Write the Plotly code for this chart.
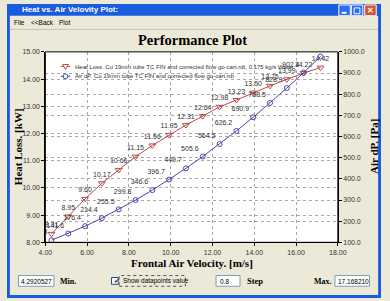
import plotly.graph_objects as go

velocity = [4.292, 5.097, 5.902, 6.706, 7.511, 8.316, 9.121, 9.925, 10.730,
            11.535, 12.340, 13.145, 13.949, 14.754, 15.559, 16.364, 17.168]
heat_loss = [8.31, 8.95, 9.60, 10.17, 10.66, 11.15, 11.56, 11.95, 12.31,
             12.64, 12.98, 13.23, 13.50, 13.75, 13.99, 14.22, 14.42]
air_dp = [109.8, 141.6, 176.4, 214.4, 255.5, 299.8, 346.6, 396.7, 449.7,
          505.6, 564.5, 626.2, 690.9, 758.5, 828.9, 902.4, 978.0]

heat_name = "Heat Loss. Cu 19mm tube TC FIN and corrected flow go-cart.rdt, 0.175 kg/s Water"
dp_name = "Air dP. Cu 19mm tube TC FIN and corrected flow go-cart.rdt"

W, H = 390, 301
def px(x): return x / W
def py(y): return 1 - y / H

RED = "#B84A4A"
BLUE = "#4848A8"
BEIGE = "#ECE9D8"
SANS = "Liberation Sans"
SERIF = "Liberation Serif"

fig = go.Figure()
fig.add_trace(go.Scatter(
    x=velocity, y=heat_loss, name=heat_name, mode="lines+markers+text",
    line=dict(color=RED, width=1),
    marker=dict(symbol="triangle-down-open", size=6, color=RED, line=dict(width=1)),
    text=[f"{v:.2f}" for v in heat_loss], textposition="top center",
    textfont=dict(size=7, color="#333333", family=SANS), cliponaxis=False))
fig.add_trace(go.Scatter(
    x=velocity, y=air_dp, name=dp_name, mode="lines+markers+text", yaxis="y2",
    line=dict(color=BLUE, width=1),
    marker=dict(symbol="circle-open", size=5, color=BLUE, line=dict(width=1)),
    text=[f"{v:.1f}" for v in air_dp], textposition="top left",
    textfont=dict(size=7, color="#333333", family=SANS), cliponaxis=True))

axis_common = dict(showline=True, linecolor="black", linewidth=1, mirror=False,
                   ticks="outside", ticklen=3, tickcolor="black",
                   tickfont=dict(size=7, color="#333333", family=SANS),
                   gridcolor="#A8A8A8", griddash="dot", gridwidth=1, zeroline=False)

fig.update_layout(
    width=W, height=H, margin=dict(l=0, r=0, t=0, b=0),
    paper_bgcolor=BEIGE, plot_bgcolor="white", showlegend=False,
    xaxis=dict(domain=[px(40), px(345)], range=[4, 18], dtick=2, tickformat=".2f",
               **axis_common),
    yaxis=dict(domain=[py(244), py(49)], range=[8, 15], dtick=1, tickformat=".2f",
               **axis_common),
    yaxis2=dict(overlaying="y", side="right", range=[100, 1000], dtick=100,
                tickformat=".1f", **axis_common),
)

shapes = []
# plot border
shapes.append(dict(type="rect", xref="paper", yref="paper", x0=px(40), x1=px(345),
                   y0=py(244), y1=py(49), line=dict(color="black", width=1)))
# manual legend
for yy, col in [(64, RED), (74, BLUE)]:
    shapes.append(dict(type="line", xref="paper", yref="paper", x0=px(56), x1=px(66),
                       y0=py(yy), y1=py(yy), line=dict(color=col, width=1)))
shapes.append(dict(type="path", xref="paper", yref="paper",
                   path=f"M {px(58)} {py(62)} L {px(64)} {py(62)} L {px(61)} {py(67)} Z",
                   fillcolor="white", line=dict(color=RED, width=1)))
shapes.append(dict(type="circle", xref="paper", yref="paper", x0=px(58.5), x1=px(63.5),
                   y0=py(76.5), y1=py(71.5), fillcolor="white", line=dict(color=BLUE, width=1)))
# title bar
shapes.append(dict(type="rect", xref="paper", yref="paper", x0=0, x1=1, y0=py(12), y1=1,
                   fillcolor="#1A5CE0", line=dict(width=0), layer="above"))
# window borders
shapes.append(dict(type="rect", xref="paper", yref="paper", x0=0, x1=px(3), y0=0, y1=1,
                   fillcolor="#1A5CE0", line=dict(width=0)))
shapes.append(dict(type="rect", xref="paper", yref="paper", x0=px(387), x1=1, y0=0, y1=1,
                   fillcolor="#1A5CE0", line=dict(width=0)))
shapes.append(dict(type="rect", xref="paper", yref="paper", x0=0, x1=1, y0=0, y1=py(298),
                   fillcolor="#1A5CE0", line=dict(width=0)))
# menu separator
shapes.append(dict(type="line", xref="paper", yref="paper", x0=px(3), x1=px(387),
                   y0=py(26), y1=py(26), line=dict(color="#C8C4B4", width=1)))
# title bar buttons
for x0, col in [(346, "#2C6CF0"), (359, "#2C6CF0"), (373, "#D8502C")]:
    shapes.append(dict(type="rect", xref="paper", yref="paper", x0=px(x0), x1=px(x0 + 12),
                       y0=py(12), y1=py(1), fillcolor=col, line=dict(color="white", width=1),
                       layer="above"))
shapes.append(dict(type="line", xref="paper", yref="paper", x0=px(349), x1=px(354),
                   y0=py(9), y1=py(9), line=dict(color="white", width=2)))
shapes.append(dict(type="rect", xref="paper", yref="paper", x0=px(362), x1=px(368),
                   y0=py(10), y1=py(4), line=dict(color="white", width=1)))
# text boxes
for x0, x1 in [(12, 49), (218, 243), (342, 378)]:
    shapes.append(dict(type="rect", xref="paper", yref="paper", x0=px(x0), x1=px(x1),
                       y0=py(289), y1=py(278), fillcolor="white",
                       line=dict(color="#7F9DB9", width=1)))
# checkbox
shapes.append(dict(type="rect", xref="paper", yref="paper", x0=px(109), x1=px(116),
                   y0=py(287), y1=py(280), fillcolor="white", line=dict(color="#1C5180", width=1)))
shapes.append(dict(type="rect", xref="paper", yref="paper", x0=px(117), x1=px(186),
                   y0=py(289), y1=py(278), line=dict(color="#555555", width=1, dash="dot")))
fig.update_layout(shapes=shapes)

ann = []
def text(x, y, s, size=7, color="black", family=SANS, xanchor="left", bold=False, angle=0):
    if bold:
        s = f"<b>{s}</b>"
    ann.append(dict(x=px(x), y=py(y), xref="paper", yref="paper", text=s, showarrow=False,
                    xanchor=xanchor, yanchor="middle", textangle=angle,
                    font=dict(size=size, color=color, family=family)))

text(14, 6, "Heat vs. Air Velovity Plot:", size=8, color="white", bold=True)
text(5, 19, "File", size=6.5)
text(23, 19, "<<Back", size=6.5)
text(52, 19, "Plot", size=6.5)
text(193, 37, "Performance Plot", size=14.5, family=SERIF, xanchor="center", bold=True)
text(11, 146, "Heat Loss. [kW]", size=11, family=SERIF, xanchor="center", bold=True, angle=-90)
text(382, 146, "Air dP. [Pa]", size=11, family=SERIF, xanchor="center", bold=True, angle=-90)
text(193, 265, "Frontal Air Velocity. [m/s]", size=11, family=SERIF, xanchor="center", bold=True)
text(69, 64, heat_name, size=6, color="#333333")
text(69, 74, dp_name, size=6, color="#333333")
text(13, 284, "4.2920527", size=6.5)
text(53, 284, "Min.", size=8, family=SERIF, bold=True)
text(109.5, 283.5, "✔", size=6)
text(119, 284, "Show datapoints value", size=6.5)
text(220, 284, "0.8", size=6.5)
text(248, 284, "Step", size=8.5, family=SERIF, bold=True)
text(318, 284, "Max.", size=8, family=SERIF, bold=True)
text(343, 284, "17.168210", size=6.5)
text(379, 6.5, "✕", size=8, color="white", bold=True, xanchor="center")
fig.update_layout(annotations=ann)

fig.write_html("out.html")
